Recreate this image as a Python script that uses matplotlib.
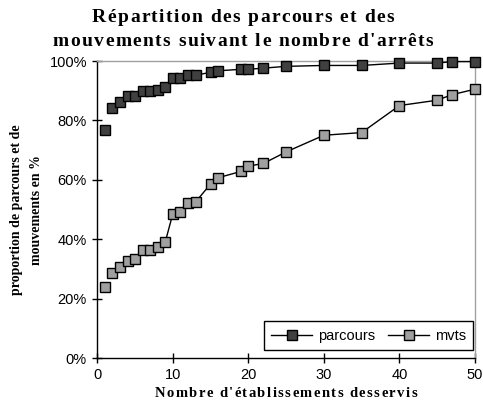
"""Répartition des parcours et des mouvements suivant le nombre d'arrêts."""

import matplotlib

matplotlib.use("Agg")

import matplotlib.pyplot as plt
from matplotlib.ticker import FuncFormatter

# nombre d'établissements desservis
arrets = [1, 2, 3, 4, 5, 6, 7, 8, 9, 10, 11, 12, 13, 15, 16, 19, 20, 22, 25, 30, 35, 40, 45, 47, 50]
parcours = [76.8, 84.2, 86.3, 88.2, 88.2, 90.0, 90.0, 90.3, 91.3, 94.2, 94.2, 95.2, 95.2,
            96.2, 96.7, 97.2, 97.2, 97.6, 98.2, 98.5, 98.5, 99.3, 99.3, 99.8, 99.8]
mvts = [23.9, 28.6, 30.7, 32.5, 33.5, 36.5, 36.5, 37.4, 39.1, 48.6, 49.0, 52.2, 52.5,
        58.6, 60.7, 62.8, 64.6, 65.5, 69.4, 75.0, 75.9, 85.0, 86.8, 88.7, 90.5]

W, H = 483, 409
SANS = "Liberation Sans"
SERIF = "Liberation Serif"


def text_width(fig, renderer, s, **kw):
    t = fig.text(0, 0, s, **kw)
    w = t.get_window_extent(renderer).width
    t.remove()
    return w


def tracked_text(fig, cx, baseline, s, track, **kw):
    """Texte centré en cx (pixels) avec un espacement supplémentaire entre lettres."""
    renderer = fig.canvas.get_renderer()
    bar = text_width(fig, renderer, "|", **kw)
    offsets = [text_width(fig, renderer, s[:i] + "|", **kw) - bar if i else 0.0
               for i in range(len(s))]
    total = text_width(fig, renderer, s, **kw) + track * (len(s) - 1)
    x0 = cx - total / 2
    for i, ch in enumerate(s):
        if ch == " ":
            continue
        fig.text((x0 + offsets[i] + track * i) / W, 1 - baseline / H, ch,
                 ha="left", va="baseline", **kw)


def main() -> None:
    fig = plt.figure(figsize=(W / 100, H / 100), dpi=100)
    ax = fig.add_axes([97.3 / W, 1 - 358 / H, 377.7 / W, 297 / H])

    series = [("parcours", parcours, "#404040"), ("mvts", mvts, "#a0a0a0")]
    for label, values, color in series:
        # le premier point n'est pas relié au reste de la courbe
        ax.plot(arrets[1:], values[1:], color="black", lw=1.0, marker="s", ms=6.5,
                mfc=color, mec="black", mew=1.0, label=label, clip_on=False, zorder=3)
        ax.plot(arrets[:1], values[:1], ls="none", marker="s", ms=6.5,
                mfc=color, mec="black", mew=1.0, clip_on=False, zorder=3)

    ax.set_xlim(0, 50)
    ax.set_ylim(0, 100)
    ax.set_xticks(range(0, 51, 10))
    ax.set_yticks(range(0, 101, 20))
    ax.yaxis.set_major_formatter(FuncFormatter(lambda v, _: f"{v:.0f}%"))
    ax.tick_params(direction="inout", length=7, width=1, labelsize=10.5, pad=4)
    for lbl in ax.get_xticklabels() + ax.get_yticklabels():
        lbl.set_fontfamily(SANS)

    for side in ("left", "bottom"):
        ax.spines[side].set_color("black")
        ax.spines[side].set_linewidth(1.0)
    for side in ("top", "right"):
        ax.spines[side].set_color("#a0a0a0")
        ax.spines[side].set_linewidth(1.0)

    title_kw = dict(fontsize=14, fontweight="bold", family=SERIF)
    tracked_text(fig, 243, 22, "Répartition des parcours et des", 1.4, **title_kw)
    tracked_text(fig, 243, 46, "mouvements suivant le nombre d'arrêts", 1.4, **title_kw)
    tracked_text(fig, 286, 397, "Nombre d'établissements desservis", 1.4,
                 fontsize=10.5, fontweight="bold", family=SERIF)

    ylab_kw = dict(fontsize=10, fontweight="bold", family=SERIF, rotation=90,
                   ha="center", va="center")
    fig.text(17 / W, 1 - 210 / H, "proportion de parcours et de", **ylab_kw)
    fig.text(36 / W, 1 - 210 / H, "mouvements en %", **ylab_kw)

    leg = ax.legend(loc="lower right", bbox_to_anchor=(0.9955, 0.027), borderaxespad=0,
                    ncol=2, frameon=True, fancybox=False, edgecolor="black", framealpha=1,
                    handlelength=2.8, columnspacing=0.9, handletextpad=0.4, borderpad=0.5,
                    prop={"family": SANS, "size": 10.5})
    leg.get_frame().set_linewidth(1.0)

    fig.savefig("out.png", dpi=100)
    plt.close(fig)


if __name__ == "__main__":
    main()
